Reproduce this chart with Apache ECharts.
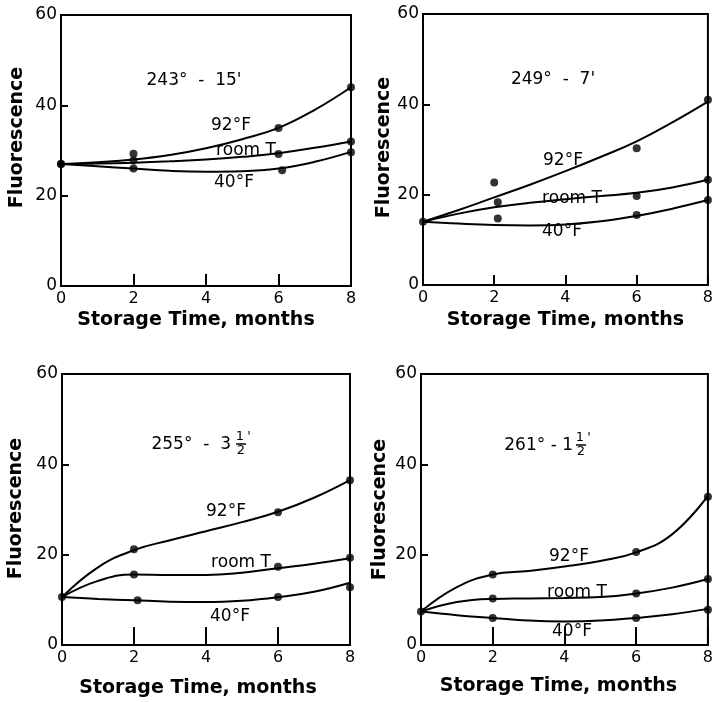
<!DOCTYPE html>
<html>
<head>
<meta charset="utf-8">
<script src="https://cdn.jsdelivr.net/npm/echarts@6/dist/echarts.min.js"></script>
<style>
html,body{margin:0;padding:0;background:#fff}
#main{width:716px;height:702px}
</style>
</head>
<body>
<div id="main"></div>
<script>
var months = [0, 1, 2, 3, 4, 5, 6, 7, 8];

// 243° - 15'
var p1Hot  = [27, 27.4, 28, 29, 30.5, 32.5, 35, 39, 44];
var p1Room = [27, 27.1, 27.3, 27.6, 28, 28.6, 29.4, 30.6, 32];
var p1Cold = [27, 26.5, 26, 25.5, 25.3, 25.4, 26, 27.5, 29.7];
var p1HotPts  = [[0, 27], [2, 29.3], [6, 35], [8, 44]];
var p1RoomPts = [[0, 27], [2, 27.8], [6, 29.2], [8, 32]];
var p1ColdPts = [[2, 26], [6.1, 25.6], [8, 29.6]];

// 249° - 7'
var p2Hot  = [14, 16.6, 19.4, 22.2, 25.2, 28.4, 31.8, 36, 40.6];
var p2Room = [14, 15.8, 17.2, 18.2, 19, 19.7, 20.4, 21.6, 23.3];
var p2Cold = [14, 13.6, 13.3, 13.2, 13.4, 14.1, 15.3, 16.9, 18.8];
var p2HotPts  = [[2, 22.7], [6, 30.3], [8, 41]];
var p2RoomPts = [[2.1, 18.3], [6, 19.7], [8, 23.3]];
var p2ColdPts = [[0, 14], [2.1, 14.7], [6, 15.5], [8, 18.8]];

// 255° - 3 1/2'
var p3Hot  = [10.6, 17.2, 21.0, 23.2, 25.2, 27.2, 29.5, 32.6, 36.5];
var p3Room = [10.6, 14.2, 15.6, 15.5, 15.5, 16, 17, 18, 19.2];
var p3Cold = [10.6, 10.2, 9.9, 9.6, 9.5, 9.8, 10.6, 11.8, 13.8];
var p3HotPts  = [[2, 21.2], [6, 29.4], [8, 36.5]];
var p3RoomPts = [[2, 15.6], [6, 17.3], [8, 19.3]];
var p3ColdPts = [[0, 10.6], [2.1, 9.9], [6, 10.6], [8, 12.8]];

// 261° - 1 1/2'
var p4Hot  = [7.4, 12.8, 15.6, 16.4, 17.4, 18.6, 20.5, 24.5, 33];
var p4Room = [7.4, 9.5, 10.2, 10.3, 10.4, 10.6, 11.4, 12.7, 14.6];
var p4Cold = [7.4, 6.6, 6.0, 5.4, 5.2, 5.4, 6.0, 6.8, 8];
var p4HotPts  = [[2, 15.6], [6, 20.6], [8, 32.8]];
var p4RoomPts = [[2, 10.3], [6, 11.4], [8, 14.6]];
var p4ColdPts = [[0, 7.4], [2, 6], [6, 6], [8, 7.8]];

var curves = [
    [p1Hot, p1Room, p1Cold],
    [p2Hot, p2Room, p2Cold],
    [p3Hot, p3Room, p3Cold],
    [p4Hot, p4Room, p4Cold]
];
var points = [
    [p1HotPts, p1RoomPts, p1ColdPts],
    [p2HotPts, p2RoomPts, p2ColdPts],
    [p3HotPts, p3RoomPts, p3ColdPts],
    [p4HotPts, p4RoomPts, p4ColdPts]
];
var curveNames = ['92°F', 'room T', '40°F'];

// layout of the four boxes
var boxes = [
    {left: 61,  top: 15,  width: 290, height: 271, tick: 12, nameGapX: 25, padX: [0, 20, 0, 0], nameGapY: 34, padY: [0, 0, 0, 26]},
    {left: 423, top: 14,  width: 289, height: 271, tick: 10, nameGapX: 26, padX: [0, 0, 0, 0],  nameGapY: 28, padY: [0, 0, 0, 4]},
    {left: 62,  top: 374, width: 288, height: 271, tick: 18, nameGapX: 34, padX: [0, 16, 0, 0], nameGapY: 36, padY: [0, 0, 0, 2]},
    {left: 421, top: 374, width: 290, height: 271, tick: 18, nameGapX: 32, padX: [0, 12, 0, 0], nameGapY: 31, padY: [0, 0, 0, 0]}
];

var FONT = 'DejaVu Sans';
var grids = [], xAxes = [], yAxes = [], series = [];

boxes.forEach(function (b, p) {
    grids.push({
        left: b.left, top: b.top, width: b.width, height: b.height,
        show: true, borderColor: '#000', borderWidth: 2, containLabel: false
    });
    xAxes.push({
        gridIndex: p, type: 'value', min: 0, max: 8, interval: 2,
        name: 'Storage Time, months', nameLocation: 'middle', nameGap: b.nameGapX,
        nameTextStyle: {fontFamily: FONT, fontSize: 19, fontWeight: 'bold', color: '#000', padding: b.padX},
        axisLine: {lineStyle: {color: '#000', width: 2}},
        axisTick: {inside: true, length: b.tick, lineStyle: {color: '#000', width: 2}},
        axisLabel: {fontFamily: FONT, fontSize: 16, color: '#000', margin: 5},
        splitLine: {show: false}
    });
    yAxes.push({
        gridIndex: p, type: 'value', min: 0, max: 60, interval: 20,
        name: 'Fluorescence', nameLocation: 'middle', nameGap: b.nameGapY, nameRotate: 90,
        nameTextStyle: {fontFamily: FONT, fontSize: 19, fontWeight: 'bold', color: '#000', padding: b.padY},
        axisLine: {lineStyle: {color: '#000', width: 2}},
        axisTick: {inside: true, length: 7, lineStyle: {color: '#000', width: 2}},
        axisLabel: {fontFamily: FONT, fontSize: 17, color: '#000', margin: 4},
        splitLine: {show: false}
    });
    curves[p].forEach(function (arr, k) {
        series.push({
            name: curveNames[k], type: 'line', xAxisIndex: p, yAxisIndex: p,
            data: months.map(function (m, i) { return [m, arr[i]]; }),
            smooth: 0.45, showSymbol: false, silent: true,
            lineStyle: {color: '#000', width: 2}
        });
    });
    points[p].forEach(function (pts, k) {
        series.push({
            name: curveNames[k], type: 'scatter', xAxisIndex: p, yAxisIndex: p,
            data: pts, symbolSize: 8, silent: true,
            itemStyle: {color: '#000'}
        });
    });
});

// text annotations
function txt(x, y, s, size, align) {
    return {
        type: 'text', x: x, y: y, silent: true,
        style: {text: s, fill: '#000', fontFamily: FONT, fontSize: size || 17,
                align: align || 'center', verticalAlign: 'middle'}
    };
}
var graphics = [
    txt(194, 81, "243°  -  15'", 17),
    txt(231, 126, '92°F'), txt(246, 151, 'room T'), txt(234, 183, '40°F'),

    txt(553, 80, "249°  -  7'", 17),
    txt(563, 161, '92°F'), txt(572, 199, 'room T'), txt(562, 232, '40°F'),

    txt(231, 445, '255°  -  3', 17, 'right'),
    txt(240, 437, '1', 13), txt(241, 451, '2', 13), txt(249, 437, "'", 13),
    {type: 'line', silent: true, shape: {x1: 236, y1: 444, x2: 246, y2: 444}, style: {stroke: '#000', lineWidth: 1.5}},
    txt(226, 512, '92°F'), txt(241, 563, 'room T'), txt(230, 617, '40°F'),

    txt(573, 446, '261° - 1', 17, 'right'),
    txt(580, 438, '1', 13), txt(581, 452, '2', 13), txt(589, 438, "'", 13),
    {type: 'line', silent: true, shape: {x1: 576, y1: 445, x2: 586, y2: 445}, style: {stroke: '#000', lineWidth: 1.5}},
    txt(569, 557, '92°F'), txt(577, 593, 'room T'), txt(572, 632, '40°F')
];

var chart = echarts.init(document.getElementById('main'));
var option = {
    animation: false,
    backgroundColor: '#fff',
    grid: grids,
    xAxis: xAxes,
    yAxis: yAxes,
    series: series,
    graphic: graphics
};
chart.setOption(option, true);
</script>
</body>
</html>
